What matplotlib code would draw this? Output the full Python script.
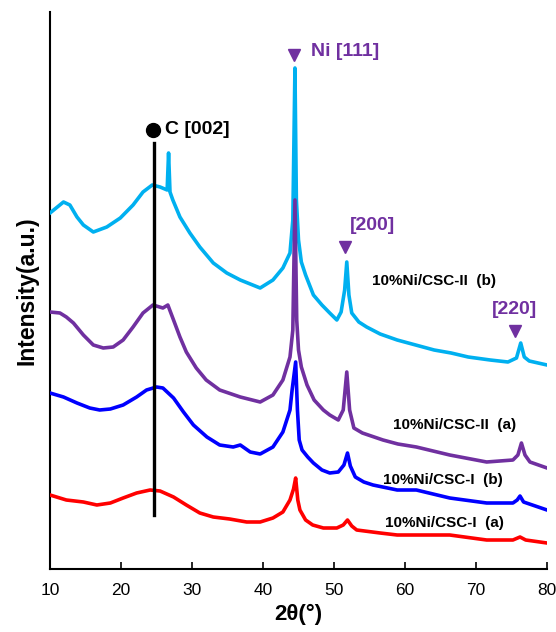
import numpy as np
import matplotlib
matplotlib.use("Agg")
import matplotlib.pyplot as plt

plt.rcParams['font.family'] = ['Liberation Sans', 'DejaVu Sans']

# 10%Ni/CSC-II (b)  (cyan)
two_theta_IIb = [10, 11.9, 12.8, 13.8, 14.7, 16.1, 18, 19.9, 21.7, 23.1, 24.4, 25.5, 26.5, 26.7, 26.9, 27.3,
                 28.3, 29.7, 31.1, 33, 34.9, 36.8, 39.6, 41.4, 42.8, 43.8, 44.2, 44.5, 44.7, 45.0, 45.4, 46,
                 47.1, 48.3, 49.4, 50.4, 51.0, 51.5, 51.8, 52.1, 52.5, 53.5, 54.6, 56.5, 58.9, 61.5, 64.1,
                 66.5, 68.9, 72, 74.5, 75.7, 76.3, 76.8, 77.5, 80]
intensity_IIb = [356, 367, 364, 352, 344, 337, 342, 351, 364, 377, 384, 382, 379, 416, 377, 369,
                 352, 336, 322, 306, 296, 289, 281, 289, 301, 316, 349, 501, 369, 329, 307, 294,
                 274, 264, 256, 249, 257, 279, 307, 274, 256, 247, 242, 235, 229, 224, 219,
                 216, 212, 209, 207, 211, 226, 212, 208, 204]

# 10%Ni/CSC-II (a)  (purple)
two_theta_IIa = [10, 11.4, 12.3, 13.3, 14.7, 16.1, 17.5, 18.9, 20.3, 21.7, 23.1, 24.5, 25.9, 26.6, 27.4,
                 28.3, 29.2, 30.6, 32.0, 33.9, 36.8, 39.6, 41.4, 42.8, 43.8, 44.2, 44.5, 44.75, 45.0, 45.4,
                 46.2, 47.2, 48.5, 49.4, 50.6, 51.3, 51.8, 52.2, 52.8, 54, 56.9, 59, 61.6, 66.3, 71.5,
                 75.2, 75.9, 76.4, 76.9, 77.6, 80]
intensity_IIa = [257, 256, 252, 246, 234, 224, 221, 222, 229, 242, 256, 264, 261, 264, 249,
                 232, 217, 201, 189, 179, 172, 167, 174, 189, 212, 239, 369, 249, 219, 202,
                 184, 169, 159, 154, 149, 159, 197, 159, 141, 136, 129, 125, 122, 114, 107,
                 109, 114, 126, 114, 107, 101]

# 10%Ni/CSC-I (b)  (blue)
two_theta_Ib = [10, 11.9, 13.8, 15.6, 17, 18.5, 20.3, 22.2, 23.6, 25, 25.9, 27.4, 28.8, 30.2, 32.1, 33.9,
                35.8, 36.8, 38.2, 39.6, 41.4, 42.8, 43.8, 44.1, 44.6, 44.85, 45.1, 45.5, 46.3, 47.1, 48.3,
                49.4, 50.6, 51.4, 51.9, 52.3, 53, 54.2, 55.5, 58.9, 61.6, 66.3, 71.5, 75.2, 75.8, 76.2,
                76.7, 80]
intensity_Ib = [176, 172, 166, 161, 159, 160, 164, 172, 179, 182, 181, 171, 157, 144, 132, 124,
                122, 124, 117, 115, 122, 137, 159, 179, 207, 159, 129, 119, 112, 106, 99,
                96, 97, 104, 116, 103, 92, 87, 84, 79, 79, 71, 66, 66, 69, 73,
                67, 59]

# 10%Ni/CSC-I (a)  (red)
two_theta_Ia = [10, 12.3, 14.7, 16.6, 18.5, 20.3, 22.2, 24.1, 25.5, 27.4, 29.2, 31.1, 33, 35.3, 37.7, 39.6,
                41.4, 42.8, 43.8, 44.3, 44.6, 44.9, 45.2, 46, 47, 48.5, 50.4, 51.3, 51.9, 52.5, 53.2,
                56.5, 58.9, 66.3, 71.5, 75.2, 76.2, 77, 80]
intensity_Ia = [74, 69, 67, 64, 66, 71, 76, 79, 78, 72, 64, 56, 52, 50, 47, 47,
                51, 57, 69, 80, 91, 69, 59, 49, 44, 41, 41, 44, 49, 43, 39,
                36, 34, 34, 29, 29, 32, 29, 26]

fig = plt.figure(figsize=(5.56, 6.32), dpi=100)
ax = fig.add_axes([50 / 556, 63 / 632, 497 / 556, 557 / 632])

line_kw = dict(lw=2.6, zorder=3, solid_joinstyle='round')
ax.plot(two_theta_IIb, intensity_IIb, color='#00B0F0', **line_kw)
ax.plot(two_theta_IIa, intensity_IIa, color='#7030A0', **line_kw)
ax.plot(two_theta_Ib, intensity_Ib, color='#0000FF', **line_kw)
ax.plot(two_theta_Ia, intensity_Ia, color='#FF0000', **line_kw)

# C [002] reference line
ax.plot([24.6, 24.6], [54, 426], color='black', lw=2.4, zorder=4)
ax.plot([24.5], [439], marker='o', color='black', markersize=10)
ax.text(26.2, 439, 'C [002]', fontsize=14, fontweight='bold', va='center', ha='left')

purple = '#7030A0'
ax.plot([44.4], [514], marker='v', color=purple, markersize=9)
ax.text(46.7, 517, 'Ni [111]', fontsize=14, fontweight='bold', color=purple, va='center', ha='left')
ax.plot([51.5], [322], marker='v', color=purple, markersize=9)
ax.text(52.2, 343, '[200]', fontsize=14, fontweight='bold', color=purple, va='center', ha='left')
ax.plot([75.5], [238], marker='v', color=purple, markersize=9)
ax.text(72.2, 260, '[220]', fontsize=14, fontweight='bold', color=purple, va='center', ha='left')

ax.text(55.3, 288, '10%Ni/CSC-II  (b)', fontsize=11, fontweight='bold', va='center', ha='left')
ax.text(58.3, 144, '10%Ni/CSC-II  (a)', fontsize=11, fontweight='bold', va='center', ha='left')
ax.text(56.9, 89, '10%Ni/CSC-I  (b)', fontsize=11, fontweight='bold', va='center', ha='left')
ax.text(57.2, 46, '10%Ni/CSC-I  (a)', fontsize=11, fontweight='bold', va='center', ha='left')

ax.set_xlim(10, 80)
ax.set_ylim(0, 557)
ax.set_xticks(np.arange(10, 81, 10))
ax.set_yticks([])
ax.tick_params(axis='x', direction='in', length=5, width=1.2, labelsize=12.5, pad=10)
for side in ['top', 'right']:
    ax.spines[side].set_visible(False)
for side in ['left', 'bottom']:
    ax.spines[side].set_linewidth(1.5)

ax.set_xlabel('2θ(°)', fontsize=16, fontweight='bold', labelpad=4)
ax.set_ylabel('Intensity(a.u.)', fontsize=16.5, fontweight='bold', labelpad=8)

fig.savefig('out.png', dpi=100)
